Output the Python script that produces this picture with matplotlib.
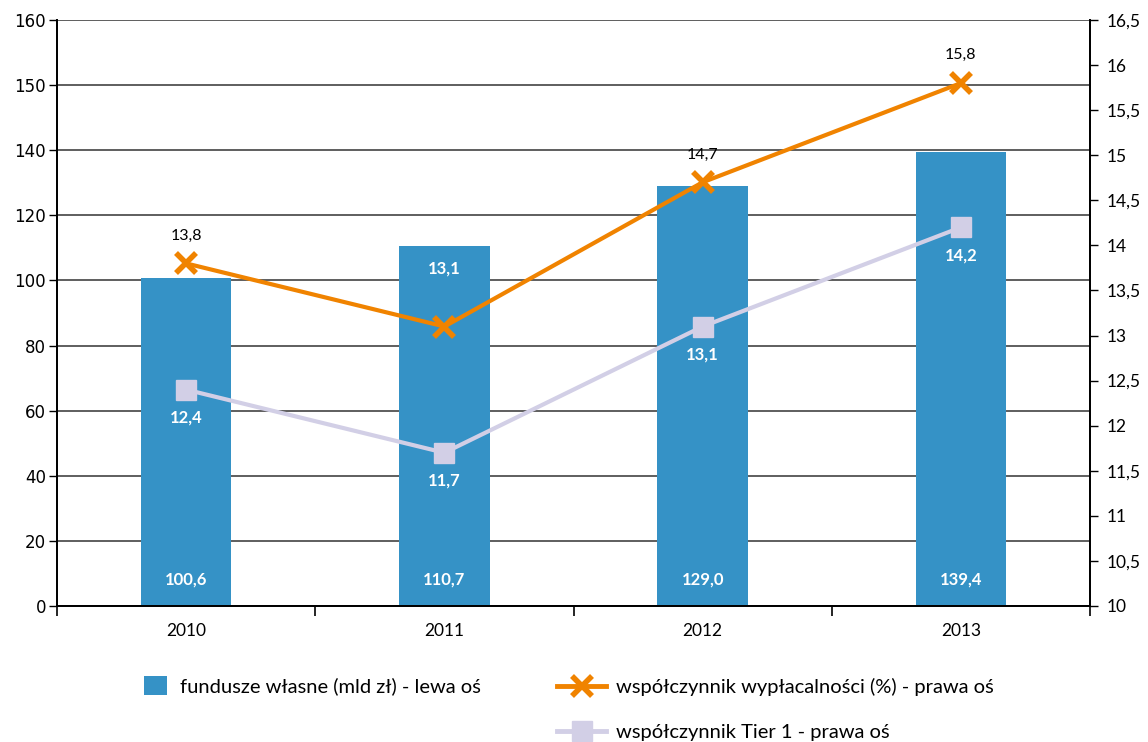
import matplotlib
matplotlib.use("Agg")
from matplotlib import pyplot as plt
from matplotlib.patches import Patch
from matplotlib.lines import Line2D
import numpy as np

lata = ["2010", "2011", "2012", "2013"]
fundusze = [100.6, 110.7, 129.0, 139.4]
wyplacalnosc = [13.8, 13.1, 14.7, 15.8]
tier1 = [12.4, 11.7, 13.1, 14.2]

lewe_ticki = ["0", "20", "40", "60", "80", "100", "120", "140", "150", "160"]
prawe_ticki = np.arange(10, 16.51, 0.5)

NIEBIESKI = "#3592c6"
POMARANCZ = "#f08300"
LAWENDA = "#d2cfe6"
FONT = "Lato"


def pl(v):
    s = f"{v:.1f}".replace(".", ",")
    return s


def pl_tick(v):
    if float(v).is_integer():
        return str(int(v))
    return f"{v:.1f}".replace(".", ",")


fig = plt.figure(figsize=(11.48, 7.42), dpi=100)
ax = fig.add_axes([57 / 1148, 136 / 742, 1033 / 1148, 586 / 742])
ax2 = ax.twinx()

x = np.arange(len(lata))

# slupki - lewa os
ax.bar(x, fundusze, width=0.35, color=NIEBIESKI, zorder=2)
for i, v in enumerate(fundusze):
    ax.text(x[i], 8, pl(v), ha="center", va="center", color="white",
            fontsize=12, fontweight="bold", family=FONT)

ax.set_xlim(-0.5, 3.5)
ax.set_ylim(0, 180)
ax.set_yticks(np.arange(0, 181, 20))
ax.set_yticklabels(lewe_ticki, fontsize=12, family="DejaVu Sans")
ax.yaxis.grid(True, color="#333333", lw=1.1, zorder=0)
ax.set_axisbelow(True)

ax.set_xticks([-0.5, 0.5, 1.5, 2.5, 3.5])
ax.set_xticklabels([])
ax.set_xticks(x, minor=True)
ax.set_xticklabels(lata, minor=True, fontsize=12.5, family=FONT)
ax.tick_params(axis="x", which="major", length=7, width=1.2, direction="out")
ax.tick_params(axis="x", which="minor", length=0, pad=12)
ax.tick_params(axis="y", length=6, width=1, pad=2)

for s in ["top"]:
    ax.spines[s].set_visible(False)
    ax2.spines[s].set_visible(False)
for s in ["left", "bottom", "right"]:
    ax.spines[s].set_linewidth(1.3)
    ax2.spines[s].set_linewidth(1.3)

# linie - prawa os
ax2.plot(x, wyplacalnosc, color=POMARANCZ, lw=3, marker="x", ms=15, mew=4,
         solid_capstyle="round", zorder=4)
ax2.plot(x, tier1, color=LAWENDA, lw=3, marker="s", ms=14, zorder=3)
ax2.set_ylim(10, 16.5)
ax2.set_yticks(prawe_ticki)
ax2.set_yticklabels([pl_tick(v) for v in prawe_ticki], fontsize=12.5, family=FONT)
ax2.tick_params(axis="y", length=6, width=1, pad=6)

# etykiety wspolczynnika wyplacalnosci (nad punktami)
for i, v in enumerate(wyplacalnosc):
    na_slupku = i == 1
    ax2.annotate(pl(v), (x[i], v), xytext=(0, 42 if na_slupku else 20),
                 textcoords="offset points", ha="center", va="center",
                 color="white" if na_slupku else "black",
                 fontweight="bold" if na_slupku else "normal",
                 fontsize=12 if na_slupku else 11.5, family=FONT)

# etykiety Tier 1 (pod punktami)
for i, v in enumerate(tier1):
    ax2.annotate(pl(v), (x[i], v), xytext=(0, -20), textcoords="offset points",
                 ha="center", va="center", color="white", fontweight="bold",
                 fontsize=12, family=FONT)

# legenda
h1 = [Patch(facecolor=NIEBIESKI, edgecolor="none")]
fig.legend(h1, ["fundusze własne (mld zł) - lewa oś"], loc="upper left",
           bbox_to_anchor=(134 / 1148, 1 - 666 / 742), frameon=False,
           borderpad=0, handlelength=1.15, handleheight=1.1, handletextpad=0.65,
           prop={"family": FONT, "size": 14.5})

h2 = [Line2D([], [], color=POMARANCZ, lw=3.5, marker="x", ms=15, mew=4),
      Line2D([], [], color=LAWENDA, lw=3.5, marker="s", ms=14)]
fig.legend(h2, ["współczynnik wypłacalności (%) - prawa oś",
                "współczynnik Tier 1 - prawa oś"], loc="upper left",
           bbox_to_anchor=(547 / 1148, 1 - 668 / 742), frameon=False,
           borderpad=0, handlelength=2.45, handletextpad=0.5, labelspacing=1.4,
           prop={"family": FONT, "size": 14.5})

fig.savefig("out.png", dpi=100)
